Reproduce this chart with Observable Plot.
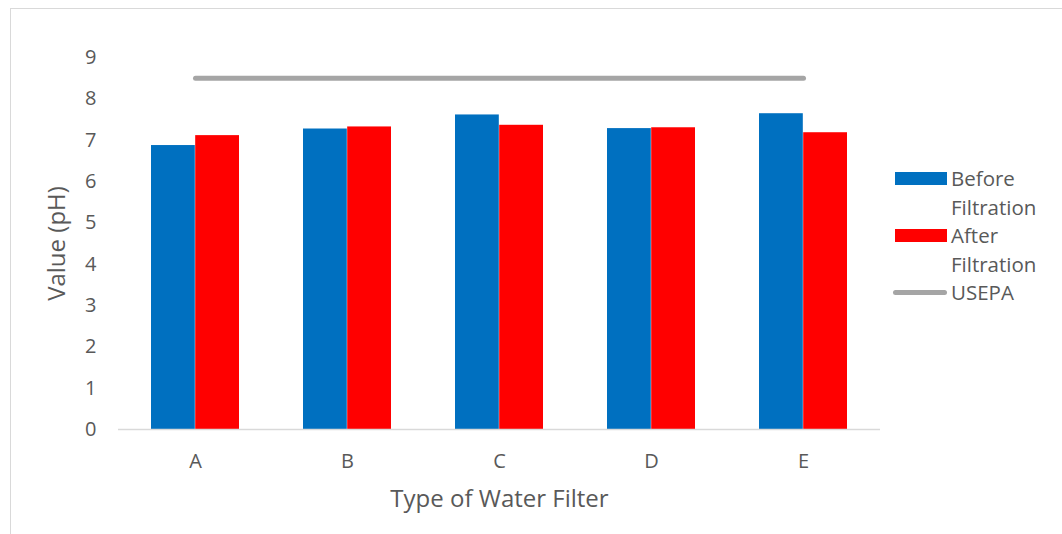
<!DOCTYPE html>
<html>
<head>
<meta charset="utf-8">
<script src="https://cdn.jsdelivr.net/npm/d3@7"></script>
<script src="https://cdn.jsdelivr.net/npm/@observablehq/plot@0.6"></script>
<style>
  html, body { margin: 0; padding: 0; background: #fff; }
  #wrap { position: relative; width: 1062px; height: 534px; overflow: hidden; font-family: "Open Sans", "Noto Sans", sans-serif; }
  #frame { position: absolute; left: 10px; top: 8px; width: 1100px; height: 600px; border: 1px solid #d9d9d9; box-sizing: border-box; }
  #chart { position: absolute; left: 0; top: 0; }
  #chart g[aria-label="y-axis tick label"], #chart g[aria-label="x-axis tick label"] { font-size: 20px; }
  #legend { position: absolute; left: 893px; top: 164px; color: #595959; font-size: 20.5px; line-height: 28.5px; }
  .row { position: relative; padding-left: 58px; white-space: nowrap; }
  .sw { position: absolute; left: 2px; top: 8px; width: 52px; height: 13px; }
  .ln { position: absolute; left: 0; top: 12px; width: 54px; height: 5px; border-radius: 3px; background: #a5a5a5; }
</style>
</head>
<body>
<div id="wrap">
  <div id="frame"></div>
  <div id="chart"></div>
  <div id="legend"></div>
</div>
<script>
const categories = ["A", "B", "C", "D", "E"];
const beforeValues = [6.87, 7.27, 7.61, 7.28, 7.64];
const afterValues = [7.11, 7.32, 7.36, 7.30, 7.18];
const usepaValue = 8.5;
const yTicks = [0, 1, 2, 3, 4, 5, 6, 7, 8, 9];
const seriesNames = ["Before Filtration", "After Filtration", "USEPA"];
const seriesColors = ["#0070C0", "#FF0000", "#A5A5A5"];

const W = 1062, H = 534;
const mL = 118, mR = 182, mT = 57, mB = 105;
const padIn = 0.42, padOut = 0.21;

const xScale = Plot.scale({x: {type: "band", domain: categories, range: [mL, W - mR], paddingInner: padIn, paddingOuter: padOut}});
const half = xScale.bandwidth / 2;

const before = categories.map((c, i) => ({cat: c, value: beforeValues[i]}));
const after = categories.map((c, i) => ({cat: c, value: afterValues[i]}));
const usepa = categories.map(c => ({cat: c, value: usepaValue}));

const chart = Plot.plot({
  width: W, height: H,
  marginLeft: mL, marginRight: mR, marginTop: mT, marginBottom: mB,
  style: {fontFamily: '"Open Sans", "Noto Sans", sans-serif', fontSize: "20px", color: "#595959", background: "transparent"},
  x: {type: "band", domain: categories, paddingInner: padIn, paddingOuter: padOut, label: null},
  y: {domain: [0, 9], label: null},
  marks: [
    Plot.barY(before, {x: "cat", y: "value", fill: seriesColors[0], insetRight: half}),
    Plot.barY(after, {x: "cat", y: "value", fill: seriesColors[1], insetLeft: half}),
    Plot.ruleY([0], {stroke: "#d9d9d9", strokeWidth: 1.5}),
    Plot.lineY(usepa, {x: "cat", y: "value", stroke: seriesColors[2], strokeWidth: 5, strokeLinecap: "round"}),
    Plot.axisY({ticks: yTicks, tickSize: 0, tickPadding: 22, fontSize: 20, fill: "#595959", label: null}),
    Plot.axisX({tickSize: 0, tickPadding: 24, fontSize: 20, fill: "#595959", label: null}),
    Plot.text(["Type of Water Filter"], {frameAnchor: "bottom", dy: 77, fontSize: 24, fill: "#595959"}),
    Plot.text(["Value (pH)"], {frameAnchor: "left", textAnchor: "middle", dx: -61, rotate: -90, fontSize: 24, fill: "#595959"})
  ]
});
document.getElementById("chart").appendChild(chart);

const legend = document.getElementById("legend");
const rows = [
  {type: "bar", color: seriesColors[0], lines: ["Before", "Filtration"]},
  {type: "bar", color: seriesColors[1], lines: ["After", "Filtration"]},
  {type: "line", color: seriesColors[2], lines: ["USEPA"]}
];
rows.forEach(r => {
  r.lines.forEach((t, i) => {
    const d = document.createElement("div");
    d.className = "row";
    d.textContent = t;
    if (i === 0) {
      const s = document.createElement("span");
      s.className = r.type === "bar" ? "sw" : "ln";
      if (r.type === "bar") s.style.background = r.color;
      d.appendChild(s);
    }
    legend.appendChild(d);
  });
});
</script>
</body>
</html>
